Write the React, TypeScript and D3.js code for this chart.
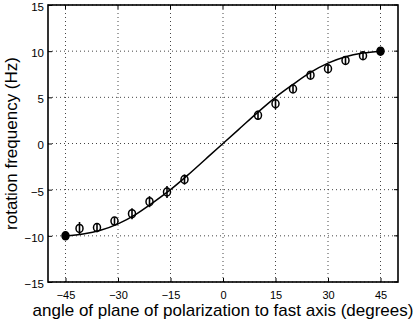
import React, { useRef, useEffect } from 'react';
import * as d3 from 'd3';

// measured points (angle in degrees, frequency in Hz, error half-width)
const angles = [-45, -41, -36, -31, -26, -21, -16, -11, 10, 15, 20, 25, 30, 35, 40, 45];
const freqs = [-10.0, -9.2, -9.1, -8.4, -7.6, -6.3, -5.25, -3.9, 3.05, 4.3, 5.9, 7.4, 8.1, 9.0, 9.5, 10.0];
const errors = [0.3, 0.7, 0.5, 0.4, 0.6, 0.6, 0.65, 0.55, 0.5, 0.6, 0.4, 0.4, 0.45, 0.45, 0.4, 0.3];

// fitted curve
const curveAngles = [-45, -40, -35, -30, -25, -20, -15, -10, -5, 0, 5, 10, 15, 20, 25, 30, 35, 40, 45];
const curveFreqs = [-10, -9.8, -9.4, -8.7, -7.7, -6.4, -5.0, -3.4, -1.7, 0, 1.7, 3.4, 5.0, 6.4, 7.7, 8.7, 9.4, 9.8, 10];

const xTicks = [-45, -30, -15, 0, 15, 30, 45];
const yTicks = [-15, -10, -5, 0, 5, 10, 15];

const App = () => {
  const svgRef = useRef<SVGSVGElement>(null);

  useEffect(() => {
    const width = 415;
    const height = 323;
    const margin = { top: 5, right: 17, bottom: 41, left: 48 };

    const svg = d3.select(svgRef.current);
    svg.selectAll('*').remove();
    svg.attr('viewBox', `0 0 ${width} ${height}`);

    const x = d3.scaleLinear().domain([-50, 50]).range([margin.left, width - margin.right]);
    const y = d3.scaleLinear().domain([-15, 15]).range([height - margin.bottom, margin.top]);

    const font = 'Liberation Sans, Arial, Helvetica, sans-serif';

    // dotted grid
    const grid = svg.append('g').attr('stroke', '#444').attr('stroke-width', 1).attr('stroke-dasharray', '1,3');
    xTicks.forEach((t) => {
      grid.append('line').attr('x1', x(t)).attr('x2', x(t)).attr('y1', y(-15)).attr('y2', y(15));
    });
    yTicks.forEach((t) => {
      grid.append('line').attr('x1', x(-50)).attr('x2', x(50)).attr('y1', y(t)).attr('y2', y(t));
    });

    // axes with inward ticks
    svg.append('g')
      .attr('transform', `translate(0, ${y(-15)})`)
      .call(d3.axisBottom(x).tickValues(xTicks).tickSizeInner(-4).tickSizeOuter(0).tickPadding(9))
      .call((g) => g.select('.domain').remove())
      .call((g) => g.selectAll('text').attr('font-size', 11).attr('font-family', font).attr('fill', '#000'));

    svg.append('g')
      .attr('transform', `translate(${x(-50)}, 0)`)
      .call(d3.axisLeft(y).tickValues(yTicks).tickSizeInner(-4).tickSizeOuter(0).tickPadding(4))
      .call((g) => g.select('.domain').remove())
      .call((g) => g.selectAll('text')
        .attr('font-size', 11.5)
        .attr('font-family', font)
        .attr('fill', '#000')
        .attr('transform', 'translate(0, 1.8)'));

    // top/right inward ticks
    xTicks.forEach((t) => {
      svg.append('line').attr('x1', x(t)).attr('x2', x(t)).attr('y1', y(15)).attr('y2', y(15) + 4).attr('stroke', '#000');
    });
    yTicks.forEach((t) => {
      svg.append('line').attr('x1', x(50)).attr('x2', x(50) - 4).attr('y1', y(t)).attr('y2', y(t)).attr('stroke', '#000');
    });

    // frame
    svg.append('rect')
      .attr('x', x(-50)).attr('y', y(15))
      .attr('width', x(50) - x(-50)).attr('height', y(-15) - y(15))
      .attr('fill', 'none').attr('stroke', '#000').attr('stroke-width', 1.6);

    // fitted curve
    const curve = curveAngles.map((a, i) => [a, curveFreqs[i]] as [number, number]);
    svg.append('path')
      .datum(curve)
      .attr('fill', 'none')
      .attr('stroke', '#000')
      .attr('stroke-width', 1.5)
      .attr('d', d3.line<[number, number]>().x((d) => x(d[0])).y((d) => y(d[1])).curve(d3.curveMonotoneX));

    // points with error bars
    const pts = svg.append('g');
    angles.forEach((a, i) => {
      pts.append('line')
        .attr('x1', x(a)).attr('x2', x(a))
        .attr('y1', y(freqs[i] - errors[i])).attr('y2', y(freqs[i] + errors[i]))
        .attr('stroke', '#000').attr('stroke-width', 1.6);
      pts.append('ellipse')
        .attr('cx', x(a)).attr('cy', y(freqs[i])).attr('rx', 3.5).attr('ry', 4)
        .attr('fill', Math.abs(a) === 45 ? '#000' : 'none')
        .attr('stroke', '#000').attr('stroke-width', 1.5);
    });

    // axis titles
    svg.append('text')
      .attr('x', 223)
      .attr('y', 316)
      .attr('text-anchor', 'middle')
      .attr('font-family', font)
      .attr('font-size', 17)
      .text('angle of plane of polarization to fast axis (degrees)');

    svg.append('text')
      .attr('transform', `translate(17, 143.5) rotate(-90)`)
      .attr('text-anchor', 'middle')
      .attr('font-family', font)
      .attr('font-size', 17)
      .text('rotation frequency (Hz)');
  }, []);

  return (
    <svg ref={svgRef} width={415} height={323} style={{ position: 'absolute', left: 0, top: 0, background: '#fff' }} />
  );
};

export default App;
